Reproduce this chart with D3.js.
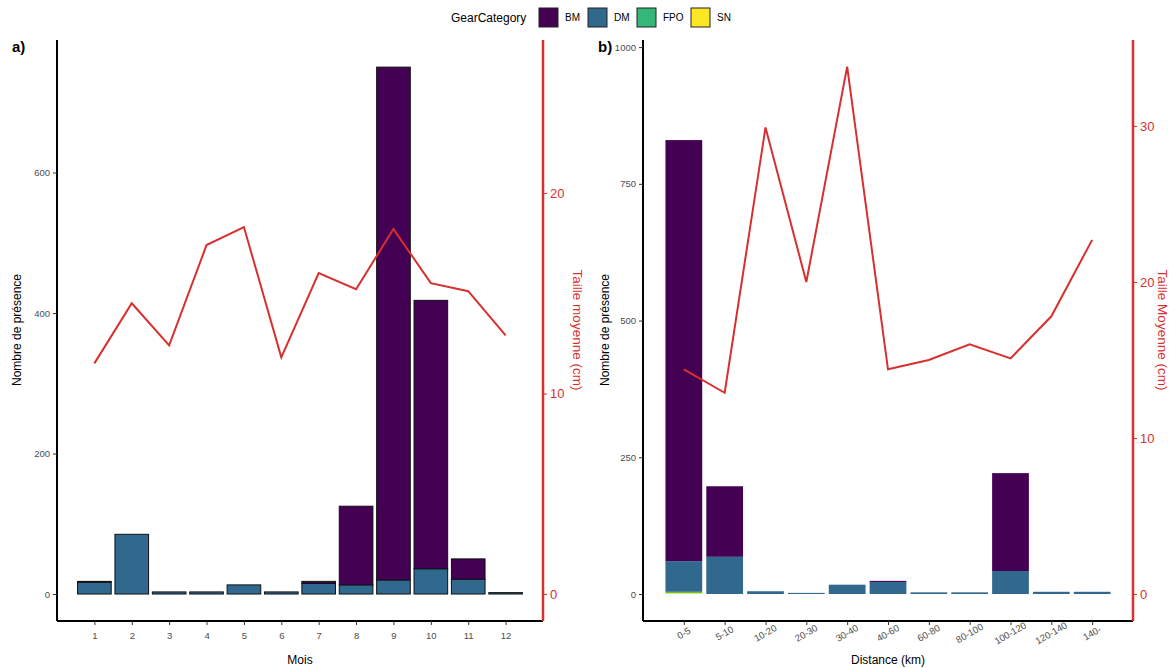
<!DOCTYPE html>
<html><head><meta charset="utf-8">
<script src="https://cdn.jsdelivr.net/npm/d3@7"></script>
<style>body{margin:0;background:#fff}svg{font-family:"Liberation Sans",Arial,sans-serif}</style>
</head><body><svg id="c" width="1176" height="668"></svg>
<script>
// ---- data ----
const gearKeys = ["BM", "DM", "FPO", "SN"];
const gearColors = ["#440154", "#31688E", "#35B779", "#FDE725"];

const months = [1,2,3,4,5,6,7,8,9,10,11,12];
const bmMonth  = [1, 0, 0, 0, 0, 0, 3, 112, 730, 382, 29, 0];
const dmMonth  = [17, 85, 3, 3, 13, 3, 15, 13, 20, 36, 21, 2];
const fpoMonth = [0,0,0,0,0,0,0,0,0,0,0,0];
const snMonth  = [0,0,0,0,0,0,0,0,0,0,0,0];
const tailleMonth = [11.5, 14.5, 12.4, 17.4, 18.3, 11.8, 16.0, 15.2, 18.2, 15.5, 15.1, 12.9];

const distances = ["0-5","5-10","10-20","20-30","30-40","40-60","60-80","80-100","100-120","120-140","140-"];
const bmDist  = [770, 129, 0, 0, 0, 2, 0, 0, 179, 0, 0];
const dmDist  = [56, 68, 5, 2, 17, 22, 3, 3, 42, 4, 4];
const fpoDist = [2, 0, 0, 0, 0, 0, 0, 0, 0, 0, 0];
const snDist  = [2, 0, 0, 0, 0, 0, 0, 0, 0, 0, 0];
const tailleDist = [14.4, 12.9, 29.9, 20.0, 33.8, 14.4, 15.0, 16.0, 15.1, 17.8, 22.7];

const leftTicks = [0, 200, 400, 600];
const leftRedTicks = [0, 10, 20];
const rightTicks = [0, 250, 500, 750, 1000];
const rightRedTicks = [0, 10, 20, 30];

// ---- drawing ----
const svg = d3.select("#c");
const RED = "#d7302f";
const color = d3.scaleOrdinal().domain(gearKeys).range(gearColors);
const plotTop = 40, plotBottom = 621;

function panel(opts) {
  const g = svg.append("g");
  const x = d3.scaleLinear().domain(opts.xDomain).range([opts.left, opts.right]);
  const y = d3.scaleLinear().domain(opts.yDomain).range([plotBottom, plotTop]);
  const y2 = d3.scaleLinear().domain(opts.y2Domain).range([plotBottom, plotTop]);
  const rows = opts.cats.map((c, i) => ({pos: i + 1, BM: opts.bm[i], DM: opts.dm[i], FPO: opts.fpo[i], SN: opts.sn[i]}));
  const stack = d3.stack().keys(["SN", "FPO", "DM", "BM"])(rows);
  const bw = (x(1) - x(0)) * 0.9;
  g.selectAll("g.layer").data(stack).join("g").attr("class", "layer")
    .attr("fill", d => color(d.key))
    .selectAll("rect").data(d => d.filter(p => p[1] - p[0] > 0)).join("rect")
    .attr("x", d => x(d.data.pos) - bw / 2)
    .attr("width", bw)
    .attr("y", d => y(d[1]))
    .attr("height", d => Math.max(0.8, y(d[0]) - y(d[1])))
    .attr("stroke", opts.barStroke)
    .attr("stroke-width", opts.barStrokeW);

  // line
  const line = d3.line().x((d, i) => x(i + 1)).y(d => y2(d));
  g.append("path").datum(opts.taille).attr("d", line)
    .attr("fill", "none").attr("stroke", RED).attr("stroke-width", 2);

  // left axis
  const ax = g.append("g").attr("transform", `translate(${opts.left},0)`)
    .call(d3.axisLeft(y).tickValues(opts.yTicks).tickFormat(d3.format("d")).tickSize(4).tickPadding(3));
  ax.select(".domain").attr("d", `M0,${plotTop}V${plotBottom}`).attr("stroke", "#000").attr("stroke-width", 2);
  ax.selectAll(".tick line").attr("stroke", "#333");
  ax.selectAll(".tick text").attr("fill", "#4d4d4d").style("font-size", "9.5px");

  // bottom axis
  const bx = g.append("g").attr("transform", `translate(0,${plotBottom})`)
    .call(d3.axisBottom(x).tickValues(opts.cats.map((c, i) => i + 1)).tickFormat((d) => opts.cats[d - 1]).tickSize(4).tickPadding(7));
  bx.select(".domain").attr("d", `M${opts.left},0H${opts.right}`).attr("stroke", "#000").attr("stroke-width", 2);
  bx.selectAll(".tick line").attr("stroke", "#333");
  bx.selectAll(".tick text").attr("fill", "#4d4d4d").style("font-size", "9.5px");
  if (opts.rotate) {
    bx.selectAll(".tick text").attr("text-anchor", "middle").attr("y", 0).attr("dy", 0)
      .attr("transform", "translate(1,15) rotate(-30)");
  }

  // right red axis
  const rx = g.append("g").attr("transform", `translate(${opts.right},0)`)
    .call(d3.axisRight(y2).tickValues(opts.y2Ticks).tickSize(4).tickPadding(3));
  rx.select(".domain").attr("d", `M0,${plotTop}V${plotBottom}`).attr("stroke", RED).attr("stroke-width", 2.5);
  rx.selectAll(".tick line").attr("stroke", RED);
  rx.selectAll(".tick text").attr("fill", RED).style("font-size", "13px");

  // titles
  g.append("text").attr("x", (opts.left + opts.right) / 2).attr("y", 664)
    .attr("text-anchor", "middle").style("font-size", "12px").attr("fill", "#000").text(opts.xTitle);
  g.append("text").attr("transform", `translate(${opts.yTitleX},330) rotate(-90)`)
    .attr("text-anchor", "middle").style("font-size", "12px").attr("fill", "#000").text("Nombre de présence");
  g.append("text").attr("transform", `translate(${opts.y2TitleX},330) rotate(90)`)
    .attr("text-anchor", "middle").style("font-size", "13.5px").attr("fill", RED).text(opts.y2Title);
  g.append("text").attr("x", opts.tagX).attr("y", 52).style("font-size", "15px").style("font-weight", "bold")
    .attr("fill", "#000").text(opts.tag);
}

panel({
  left: 57, right: 543, xDomain: [0, 13],
  yDomain: [-38.4, 788.6], y2Domain: [-1.35, 27.63],
  cats: months.map(String), bm: bmMonth, dm: dmMonth, fpo: fpoMonth, sn: snMonth,
  taille: tailleMonth, yTicks: leftTicks, y2Ticks: leftRedTicks,
  barStroke: "#111", barStrokeW: 1, rotate: false,
  xTitle: "Mois", yTitleX: 21, y2TitleX: 573, y2Title: "Taille moyenne (cm)", tag: "a)", tagX: 12
});

panel({
  left: 643, right: 1133, xDomain: [0, 12],
  yDomain: [-49.4, 1013], y2Domain: [-1.73, 35.51],
  cats: distances, bm: bmDist, dm: dmDist, fpo: fpoDist, sn: snDist,
  taille: tailleDist, yTicks: rightTicks, y2Ticks: rightRedTicks,
  barStroke: "none", barStrokeW: 0, rotate: true,
  xTitle: "Distance (km)", yTitleX: 609, y2TitleX: 1158, y2Title: "Taille Moyenne (cm)", tag: "b)", tagX: 598
});

// legend
const lg = svg.append("g");
lg.append("text").attr("x", 451).attr("y", 22).style("font-size", "12px").attr("fill", "#000").text("GearCategory");
const keyX = [539, 588, 637, 691];
gearKeys.forEach((k, i) => {
  lg.append("rect").attr("x", keyX[i]).attr("y", 8).attr("width", 19).attr("height", 19)
    .attr("fill", color(k)).attr("stroke", "#222").attr("stroke-width", 1);
  lg.append("text").attr("x", keyX[i] + 26).attr("y", 21).style("font-size", "10px").attr("fill", "#000").text(k);
});
</script></body></html>
